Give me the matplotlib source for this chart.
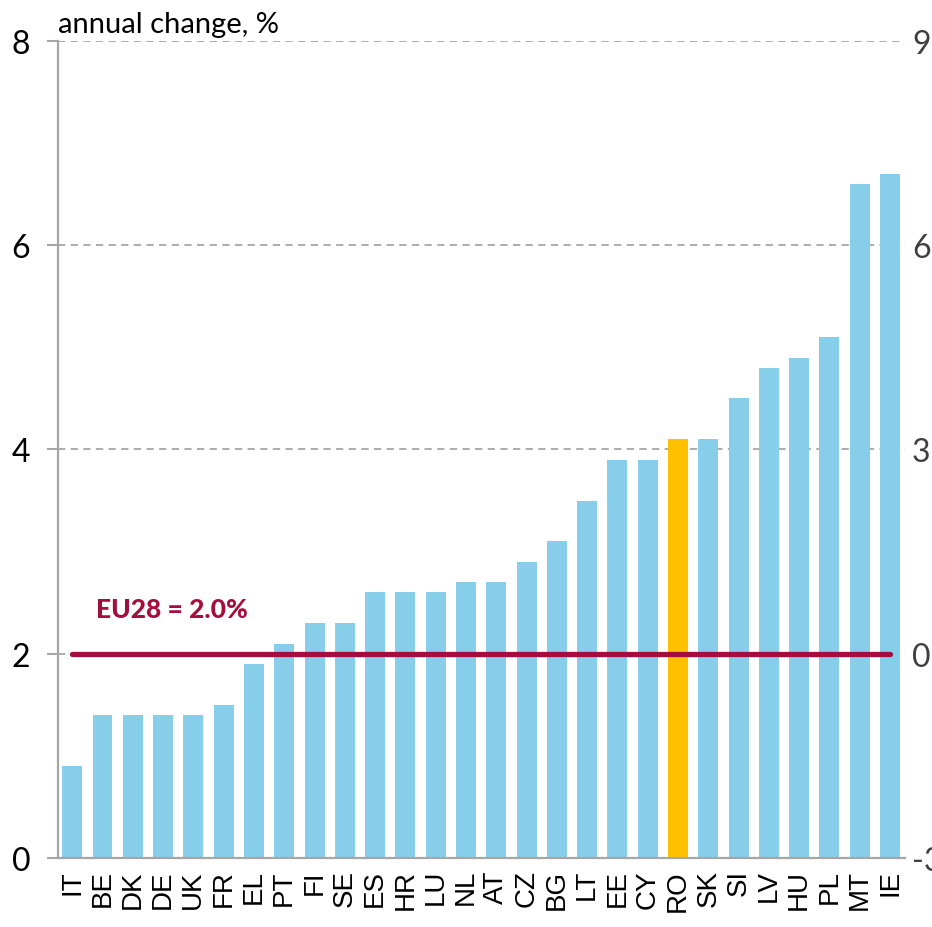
import matplotlib.pyplot as plt
import numpy as np

plt.rcParams['font.family'] = ['Lato', 'DejaVu Sans']
plt.rcParams['axes.unicode_minus'] = False

# dados
paises = ['IT', 'BE', 'DK', 'DE', 'UK', 'FR', 'EL', 'PT', 'FI', 'SE', 'ES', 'HR', 'LU', 'NL',
          'AT', 'CZ', 'BG', 'LT', 'EE', 'CY', 'RO', 'SK', 'SI', 'LV', 'HU', 'PL', 'MT', 'IE']
variacao = [0.9, 1.4, 1.4, 1.4, 1.4, 1.5, 1.9, 2.1, 2.3, 2.3, 2.6, 2.6, 2.6, 2.7,
            2.7, 2.9, 3.1, 3.5, 3.9, 3.9, 4.1, 4.1, 4.5, 4.8, 4.9, 5.1, 6.6, 6.7]
media_ue = 2.0
destaque = 'RO'

cinza = '#A6A6A6'
cores = ['#FFC000' if p == destaque else '#87CEEB' for p in paises]

fig = plt.figure(figsize=(9.32, 9.28), dpi=100)
ax = fig.add_axes([0.0622, 0.0744, 0.909, 0.8803])

x = np.arange(len(paises))
ax.bar(x, variacao, width=0.66, color=cores, zorder=2)

# linha da media EU28
ax.plot([x[0], x[-1]], [media_ue, media_ue], color='#A50D3E', lw=3.8,
        solid_capstyle='round', zorder=3)
ax.text(0.8, 2.44, f'EU28 = {media_ue:.1f}%', color='#A50D3E', fontsize=19,
        fontweight='black', ha='left', va='center')

ax.set_xlim(-0.47, 27.5)
ax.set_ylim(0, 8)
ax.set_yticks([0, 2, 4, 6, 8])
ax.set_xticks(x)
ax.set_xticklabels(paises, rotation=90, fontsize=20, family=['Liberation Sans'])
ax.tick_params(axis='x', length=0, pad=8)
ax.tick_params(axis='y', length=8, width=1.5, color=cinza, labelsize=23, pad=12)
ax.grid(axis='y', color=cinza, linestyle=(0, (4, 3)), lw=1.3, zorder=0)
for lado in ['top', 'right']:
    ax.spines[lado].set_visible(False)
for lado in ['left', 'bottom']:
    ax.spines[lado].set_color(cinza)
    ax.spines[lado].set_linewidth(1.6)

# eixo direito
ax2 = ax.twinx()
ax2.set_ylim(-3, 9)
ax2.set_yticks([-3, 0, 3, 6, 9])
ax2.tick_params(axis='y', length=0, labelsize=23, labelcolor='#404040', pad=5)
for lado in ax2.spines:
    ax2.spines[lado].set_visible(False)

ax.text(0.0, 1.005, 'annual change, %', transform=ax.transAxes, fontsize=21,
        ha='left', va='bottom')

fig.savefig('out.png', dpi=100)
plt.close()
